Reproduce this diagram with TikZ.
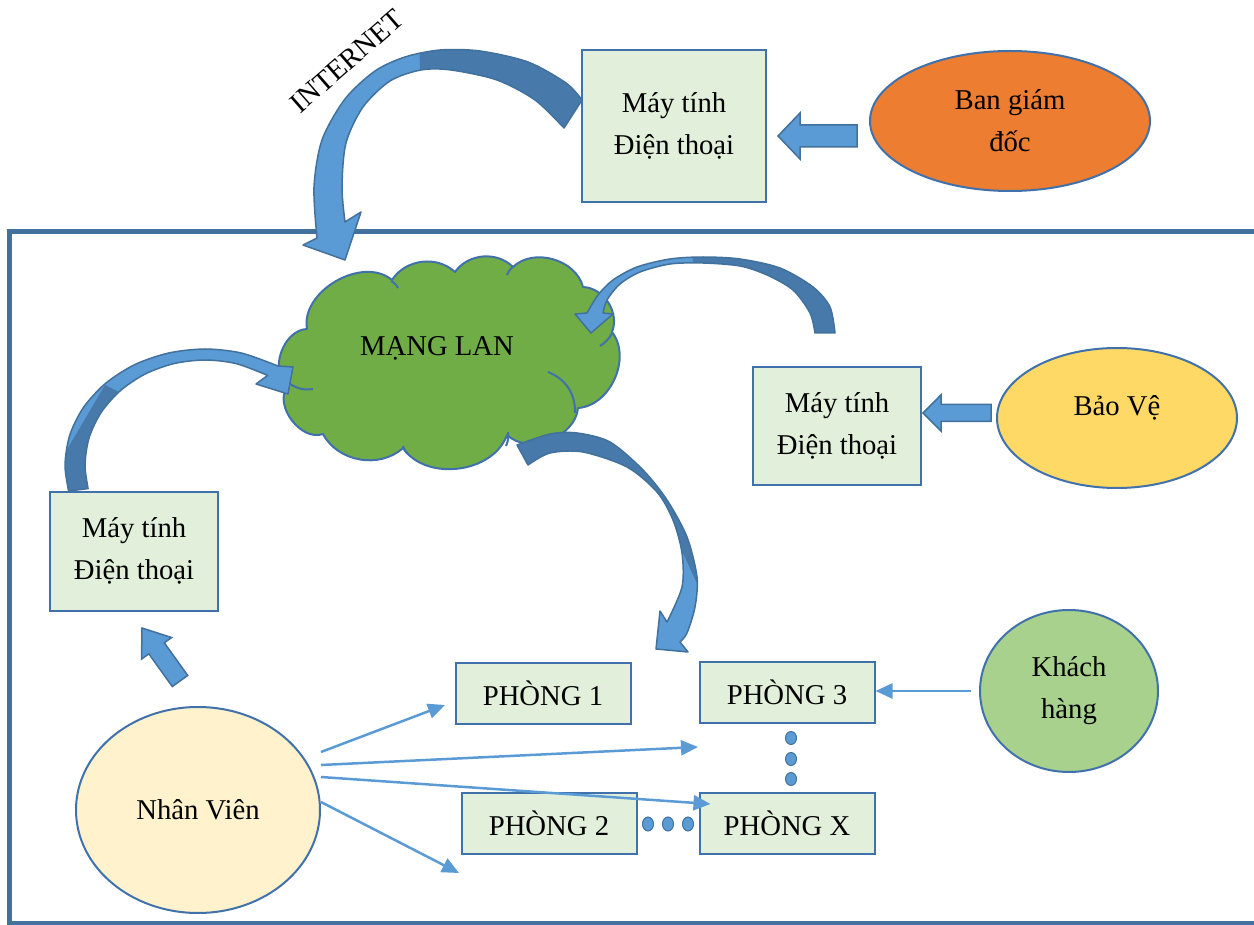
\documentclass[tikz,border=0pt]{standalone}
\usepackage{fontspec}
\setmainfont{Liberation Serif}
\usetikzlibrary{positioning, calc, shapes.geometric, arrows.meta}
\definecolor{frameColor}{RGB}{65,113,156}
\definecolor{shapeLineColor}{RGB}{65,113,170}
\definecolor{boxFillColor}{RGB}{226,239,218}
\definecolor{arrowLightColor}{RGB}{91,155,213}
\definecolor{arrowDarkColor}{RGB}{71,121,170}
\definecolor{cloudColor}{RGB}{112,173,71}
\definecolor{directorColor}{RGB}{237,125,49}
\definecolor{guardColor}{RGB}{255,217,102}
\definecolor{guestColor}{RGB}{169,209,142}
\definecolor{staffColor}{RGB}{255,242,204}
\tikzstyle{labelText} = [font=\fontsize{28.7}{42}\selectfont, align=center, text=black]
\tikzstyle{pcBox} = [labelText, draw=shapeLineColor, fill=boxFillColor, line width=2pt, inner sep=0pt]
\tikzstyle{roomBox} = [pcBox, minimum width=175pt, minimum height=61pt]
\tikzstyle{personShape} = [labelText, ellipse, draw=shapeLineColor, line width=2pt, inner sep=0pt]
\tikzstyle{cloudStyle} = [draw=shapeLineColor, fill=cloudColor, line width=2pt, line join=round]
\tikzstyle{cloudLine} = [draw=shapeLineColor, line width=2pt]
\tikzstyle{thinArrow} = [draw=arrowLightColor, line width=2.5pt, -{Triangle[length=17pt, width=15pt]}]
\tikzstyle{blockArrowStyle} = [fill=arrowLightColor, draw=frameColor, line width=1.5pt]
\tikzstyle{curvedArrowLine} = [draw=frameColor, line width=1.5pt, line join=round]
\tikzstyle{dotStyle} = [fill=arrowLightColor, draw=frameColor, line width=1pt]
\newcommand{\blockArrow}[5]{
  \coordinate (headBase) at ($(#2)!#5!(#1)$);
  \filldraw [blockArrowStyle] ($(#1)!#3!90:(#2)$) -- ($(headBase)!#3!-90:(#1)$) -- ($(headBase)!#4!-90:(#1)$) -- (#2) -- ($(headBase)!#4!90:(#1)$) -- ($(headBase)!#3!90:(#1)$) -- ($(#1)!#3!-90:(#2)$) -- cycle;
}
\newcommand{\curvedArrow}[4]{
  \fill [arrowLightColor] plot [smooth] coordinates {#1} -- #2 -- plot [smooth] coordinates {#3} -- cycle;
  \begin{scope}
    \clip plot [smooth] coordinates {#1} -- #2 -- plot [smooth] coordinates {#3} -- cycle;
    \fill [arrowDarkColor] #4 -- cycle;
  \end{scope}
  \draw [curvedArrowLine] plot [smooth] coordinates {#1} -- #2 -- plot [smooth] coordinates {#3} -- cycle;
}

\begin{document}
\begin{tikzpicture}[x=1pt, y=-1pt]
  \useasboundingbox (0,0) rectangle (1254,925);
  \draw [frameColor, line width=5pt] (9.5,232) rectangle (1270,923);

  \filldraw [cloudStyle] (307,329) to [bend left=70] (392,280) to [bend left=50] (455,272) to [bend left=50] (513,267) to [bend left=60] (583,287) to [bend left=55] (612,332) to [bend left=62] (578,408) to [bend left=64] (507,435) to [bend left=63] (403,448) to [bend left=52] (323,434) to [bend left=72] (287,387) to [bend left=69] (307,329) -- cycle;
  \draw [cloudLine] (290,384) to [bend right=20] (313,389);
  \draw [cloudLine] (548,372) to [bend left=35] (575,413);
  \draw [cloudLine] (600,346) to [bend right=15] (612,333);
  \draw [cloudLine] (508,432) to [bend left=15] (506,446);
  \draw [cloudLine] (403,446) to [bend right=15] (409,455);
  \draw [cloudLine] (514,266) to [bend right=15] (507,275);
  \draw [cloudLine] (391,281) to [bend left=15] (398,288);
  \node [labelText] (lan) at (437,348) {MẠNG LAN};

  \node [pcBox, minimum width=184pt, minimum height=152pt] (pcTop) at (674,126) {Máy tính\\Điện thoại};
  \node [personShape, fill=directorColor, minimum width=280pt, minimum height=140pt] (banGD) at (1010,121) {Ban giám\\đốc};
  \node [labelText, rotate=41] (internet) at (347,61) {INTERNET};
  \node [pcBox, minimum width=168pt, minimum height=118pt] (pcGuard) at (837,426) {Máy tính\\Điện thoại};
  \node [personShape, fill=guardColor, minimum width=240pt, minimum height=140pt, text depth=24pt] (baoVe) at (1117,418) {Bảo Vệ};
  \node [pcBox, minimum width=168pt, minimum height=119pt] (pcLeft) at (134,551) {Máy tính\\Điện thoại};
  \node [roomBox] (p1) at (543,693) {PHÒNG 1};
  \node [roomBox] (p3) at (787,692) {PHÒNG 3};
  \node [roomBox] (p2) at (549,823) {PHÒNG 2};
  \node [roomBox] (px) at (787,823) {PHÒNG X};
  \node [personShape, fill=guestColor, minimum width=178pt, minimum height=162pt] (kh) at (1069,691) {Khách\\hàng};
  \node [personShape, fill=staffColor, minimum width=244pt, minimum height=206pt] (nv) at (198,810) {Nhân Viên};

  \curvedArrow{(582,100) (566,83) (528,62) (480,51) (440,50) (405,57) (375,71) (345,99) (322,140) (314,187) (317,238)}{(303,245) -- (345,260) -- (361,212)}{(345,222) (342,187) (346,143) (363,107) (390,81) (421,70) (451,70) (497,80) (535,100) (564,128)}{(418,0) -- (700,0) -- (700,240) -- (425,240)}
  \curvedArrow{(835,333) (830,307) (813,287) (780,268) (740,259) (703,257) (670,259) (637,267) (613,280) (598,295) (587,313)}{(575,314) -- (591,333) -- (613,314)}{(603,313) (607,300) (620,284) (640,272) (670,264) (703,263) (740,266) (767,275) (793,290) (810,313) (815,333)}{(688,200) -- (900,200) -- (900,350) -- (700,350)}
  \curvedArrow{(68.6,491) (65,465) (69.8,435) (83.8,407) (106,383) (135,364.5) (168.8,353) (205,349) (241.2,353) (278,366)}{(293,367) -- (288,394) -- (256,384)}{(267.6,375.4) (236.1,363.6) (205,360) (173.9,363.6) (145,374.1) (120.2,390.8) (101.1,412.5) (89.1,437.8) (85,465) (88.1,488.6)}{(55,470) -- (105,385) -- (125,395) -- (125,510) -- (55,510)}
  \curvedArrow{(517,445) (550,434) (577,433) (610,442) (643,470) (667,500) (687,537) (697,577) (695,607) (687,633) (680,642)}{(688,652) -- (656,649) -- (660,611)}{(667,622) (682,587) (682,553) (673,520) (657,492) (627,467) (583,452) (550,453) (528,465)}{(500,400) -- (740,400) -- (740,590) -- (700,590) -- (653,488) -- (500,488)}

  \coordinate (banTail) at (857,136);
  \coordinate (banTip) at (778,136);
  \blockArrow{banTail}{banTip}{11pt}{23pt}{22pt}
  \coordinate (guardTail) at (991,413);
  \coordinate (guardTip) at (923,413);
  \blockArrow{guardTail}{guardTip}{8.5pt}{18pt}{18pt}
  \coordinate (staffTail) at (180,681);
  \coordinate (staffTip) at (142,628);
  \blockArrow{staffTail}{staffTip}{9.5pt}{18.5pt}{25pt}

  \coordinate (p1End) at (445,705);
  \coordinate (p3End) at (698,747);
  \coordinate (p2End) at (459,873);
  \draw [thinArrow] ([yshift=58pt]nv.east) -- (p1End);
  \draw [thinArrow] ([yshift=45pt]nv.east) -- (p3End);
  \draw [thinArrow] ([yshift=33pt]nv.east) -- ([shift={(12,-19)}]px.west);
  \draw [thinArrow] ([yshift=8pt]nv.east) -- (p2End);
  \draw [thinArrow, shorten <=8pt] (kh.west) -- (kh.west -| p3.east);

  \foreach \dotY in {738,759,779}
    \filldraw [dotStyle] (791,\dotY) ellipse [x radius=5.5pt, y radius=6.5pt];
  \foreach \dotX in {648,668,688}
    \filldraw [dotStyle] (\dotX,824) ellipse [x radius=5.5pt, y radius=7pt];
\end{tikzpicture}
\end{document}
